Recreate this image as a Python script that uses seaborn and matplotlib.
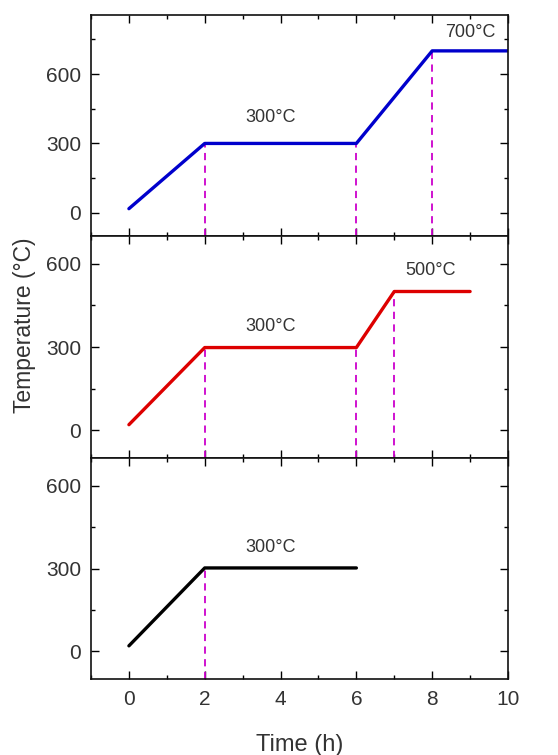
import matplotlib
matplotlib.use("Agg")
import matplotlib.pyplot as plt
import seaborn as sns
import pandas as pd
from matplotlib.ticker import MultipleLocator

sns.set_style("ticks")
plt.rcParams['font.family'] = ['Liberation Sans', 'DejaVu Sans']

# Data
top_time = [0, 2, 6, 8, 10]
top_temp = [18, 300, 300, 700, 700]
mid_time = [0, 2, 6, 7, 9]
mid_temp = [20, 298, 298, 500, 500]
bot_time = [0, 2, 6]
bot_temp = [20, 302, 302]

top_marks = [2, 6, 8]
mid_marks = [2, 6, 7]
bot_marks = [2]

top_labels = [("300°C", 3.75, 410), ("700°C", 9.0, 780)]
mid_labels = [("300°C", 3.75, 375), ("500°C", 7.95, 575)]
bot_labels = [("300°C", 3.75, 375)]

colors = ["#0000CC", "#DD0000", "#000000"]
dash_color = "#CC00CC"

panels = [
    (top_time, top_temp, top_marks, top_labels, colors[0], (-100, 855)),
    (mid_time, mid_temp, mid_marks, mid_labels, colors[1], (-100, 700)),
    (bot_time, bot_temp, bot_marks, bot_labels, colors[2], (-100, 700)),
]

fig = plt.figure(figsize=(5.58, 7.55), dpi=100)
left, right = 91 / 558, 508 / 558
edges = [15, 236, 458, 679]
axes = []
for i in range(3):
    top_px, bot_px = edges[i], edges[i + 1]
    ax = fig.add_axes([left, 1 - bot_px / 755, right - left, (bot_px - top_px) / 755])
    axes.append(ax)

for ax, (t, T, marks, labels, c, ylim) in zip(axes, panels):
    df = pd.DataFrame({"Time": t, "Temp": T})
    sns.lineplot(data=df, x="Time", y="Temp", ax=ax, color=c, linewidth=2.4,
                 estimator=None, sort=False)
    lookup = dict(zip(t, T))
    for m in marks:
        ax.vlines(m, ylim[0], lookup[m], colors=dash_color, linestyles=(0, (4, 3)),
                  linewidth=1.3, zorder=1)
    for txt, x, y in labels:
        ax.text(x, y, txt, ha="center", va="center", fontsize=13, color="#333333")
    ax.set_xlim(-1, 10)
    ax.set_ylim(*ylim)
    ax.set_yticks([0, 300, 600])
    ax.yaxis.set_minor_locator(MultipleLocator(150))
    ax.set_xticks([0, 2, 4, 6, 8, 10])
    ax.xaxis.set_minor_locator(MultipleLocator(1))
    ax.tick_params(which="both", direction="in", top=True, right=True, width=1.0,
                   labelsize=15, colors="#000000", labelcolor="#333333")
    ax.tick_params(which="major", length=6)
    ax.tick_params(which="minor", length=3)
    ax.tick_params(axis="y", pad=7)
    ax.tick_params(axis="x", pad=8)
    for s in ax.spines.values():
        s.set_linewidth(1.2)
        s.set_color("#111111")
    ax.set_xlabel("")
    ax.set_ylabel("")

for ax in axes[:2]:
    ax.tick_params(labelbottom=False)

fig.text(0.5 * (left + right), 1 - 745 / 755, "Time (h)", ha="center", va="center",
         fontsize=17, color="#333333")
fig.text(25 / 558, 1 - 325 / 755, "Temperature (°C)", rotation=90, ha="center",
         va="center", fontsize=16.5, color="#333333")

fig.savefig("out.png", dpi=100)
